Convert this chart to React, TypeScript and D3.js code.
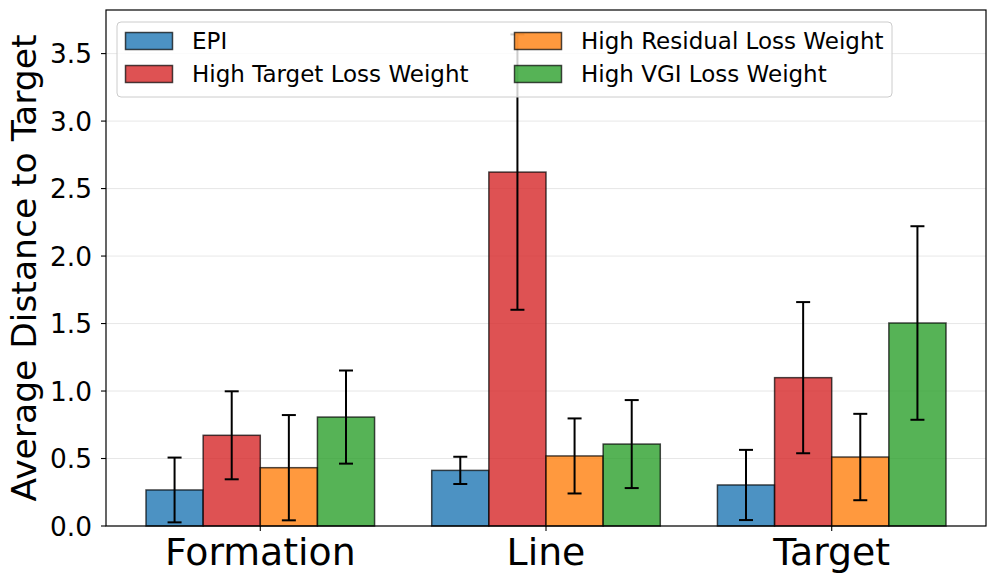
import * as d3 from 'd3'

const categories = ['Formation', 'Line', 'Target']
const seriesNames = ['EPI', 'High Target Loss Weight', 'High Residual Loss Weight', 'High VGI Loss Weight']
const seriesColors = ['#1f77b4', '#d62728', '#ff7f0e', '#2ca02c']

const epiMean = [0.267, 0.412, 0.304]
const epiErr = [0.24, 0.101, 0.26]
const targetMean = [0.672, 2.622, 1.099]
const targetErr = [0.326, 1.02, 0.56]
const residualMean = [0.432, 0.519, 0.511]
const residualErr = [0.39, 0.278, 0.32]
const vgiMean = [0.807, 0.607, 1.504]
const vgiErr = [0.345, 0.326, 0.717]

const yTicks = [0, 0.5, 1.0, 1.5, 2.0, 2.5, 3.0, 3.5]

const means = [epiMean, targetMean, residualMean, vgiMean]
const errs = [epiErr, targetErr, residualErr, vgiErr]

const W = 996
const H = 583
const margin = { left: 106, right: 10, top: 10, bottom: 57 }
const barWidth = 0.2
const font = '"DejaVu Sans", sans-serif'

export default function App() {
  const x = d3.scaleLinear().domain([-0.54, 2.54]).range([margin.left, W - margin.right])
  const y = d3.scaleLinear().domain([0, 3.823]).range([H - margin.bottom, margin.top])
  const x0 = margin.left
  const x1 = W - margin.right
  const yBottom = H - margin.bottom
  const yTop = margin.top

  const capHalf = 7

  const legendX = 117
  const legendY = 22
  const legendW = 775
  const legendH = 75
  const colX = [125.5, 514.5]
  const rowY = [41, 74]

  return (
    <div style={{ position: 'fixed', left: 0, top: 0 }}>
      <svg width={W} height={H} style={{ display: 'block', background: '#fff' }} fontFamily={font}>
        {/* grid */}
        {yTicks.map(t => (
          <line key={'g' + t} x1={x0} x2={x1} y1={y(t)} y2={y(t)} stroke="#b0b0b0" strokeOpacity={0.3} strokeWidth={1} />
        ))}

        {/* bars + error bars */}
        {means.map((vals, si) => (
          <g key={'s' + si}>
            {vals.map((v, ci) => {
              const cx = ci + (si - 1.5) * barWidth
              const left = x(cx - barWidth / 2)
              const right = x(cx + barWidth / 2)
              return (
                <rect
                  key={'b' + ci}
                  x={left}
                  y={y(v)}
                  width={right - left}
                  height={y(0) - y(v)}
                  fill={seriesColors[si]}
                  fillOpacity={0.8}
                  stroke="#000"
                  strokeOpacity={0.7}
                  strokeWidth={1.5}
                />
              )
            })}
            {vals.map((v, ci) => {
              const px = x(ci + (si - 1.5) * barWidth)
              const hi = y(v + errs[si][ci])
              const lo = y(Math.max(v - errs[si][ci], 0))
              return (
                <g key={'e' + ci} stroke="#000" strokeWidth={2}>
                  <line x1={px} x2={px} y1={hi} y2={lo} />
                  <line x1={px - capHalf} x2={px + capHalf} y1={hi} y2={hi} />
                  <line x1={px - capHalf} x2={px + capHalf} y1={lo} y2={lo} />
                </g>
              )
            })}
          </g>
        ))}

        {/* spines */}
        <rect x={x0} y={yTop} width={x1 - x0} height={yBottom - yTop} fill="none" stroke="#000" strokeWidth={1.2} />

        {/* y axis ticks */}
        {yTicks.map(t => (
          <g key={'yt' + t}>
            <line x1={x0 - 5} x2={x0} y1={y(t)} y2={y(t)} stroke="#000" strokeWidth={1.1} />
            <text x={x0 - 14} y={y(t)} dy="0.36em" textAnchor="end" fontSize={26.4} fill="#000">
              {t.toFixed(1)}
            </text>
          </g>
        ))}

        {/* x axis ticks */}
        {categories.map((c, i) => (
          <g key={'xt' + c}>
            <line x1={x(i)} x2={x(i)} y1={yBottom} y2={yBottom + 5} stroke="#000" strokeWidth={1.1} />
            <text x={x(i)} y={565} textAnchor="middle" fontSize={37.8} fill="#000">
              {c}
            </text>
          </g>
        ))}

        {/* y label */}
        <text
          transform={`translate(36, ${(yTop + yBottom) / 2}) rotate(-90)`}
          textAnchor="middle"
          fontSize={34.5}
          fill="#000"
        >
          Average Distance to Target
        </text>

        {/* legend */}
        <rect
          x={legendX}
          y={legendY}
          width={legendW}
          height={legendH}
          rx={4}
          fill="#fff"
          fillOpacity={0.8}
          stroke="#cccccc"
          strokeWidth={1}
        />
        {seriesNames.map((name, i) => {
          const col = i < 2 ? 0 : 1
          const row = i % 2
          const px = colX[col]
          const py = rowY[row]
          return (
            <g key={'l' + name}>
              <rect
                x={px}
                y={py - 8.5}
                width={47}
                height={17}
                fill={seriesColors[i]}
                fillOpacity={0.8}
                stroke="#000"
                strokeOpacity={0.7}
                strokeWidth={1.5}
              />
              <text x={px + 66.5} y={py} dy="0.36em" fontSize={23} fill="#000">
                {name}
              </text>
            </g>
          )
        })}
      </svg>
    </div>
  )
}
